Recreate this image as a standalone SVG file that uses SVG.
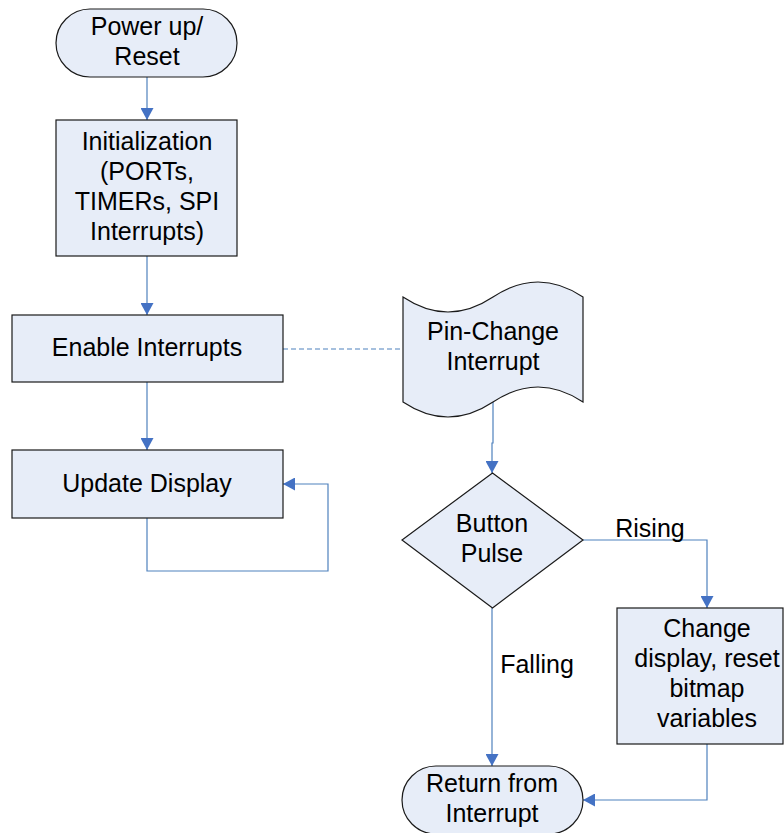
<svg xmlns="http://www.w3.org/2000/svg" width="784" height="833" viewBox="0 0 784 833">
<defs>
<style>
.n{fill:#E7EDF8;stroke:#1a1a1a;stroke-width:1.2}
.t{font-family:"Liberation Sans",Arial,sans-serif;font-size:25px;fill:#000;text-anchor:middle}
.c{fill:none;stroke:#4F81BD;stroke-width:1.2}
.d{fill:none;stroke:#4F81BD;stroke-width:1.2;stroke-dasharray:5,3}
</style>
<marker id="ah" markerUnits="userSpaceOnUse" markerWidth="13" markerHeight="13" refX="12" refY="6.5" orient="auto">
<path d="M0,0 L12,6.5 L0,13 z" fill="#4472C4"/>
</marker>
</defs>
<rect width="784" height="833" fill="#fff"/>
<g id="connectors">
<path class="c" d="M147,77 V120" marker-end="url(#ah)"/>
<path class="c" d="M147,256 V315" marker-end="url(#ah)"/>
<path class="c" d="M147,382 V450" marker-end="url(#ah)"/>
<path class="c" d="M147,518 V571 H328 V484 H283" marker-end="url(#ah)"/>
<path class="d" d="M283,349 H403"/>
<path class="c" d="M493,402 V443 H492 V473" marker-end="url(#ah)"/>
<path class="c" d="M583,540 H707 V608" marker-end="url(#ah)"/>
<path class="c" d="M492,608 V766" marker-end="url(#ah)"/>
<path class="c" d="M707,744 V800 H583" marker-end="url(#ah)"/>
</g>
<g id="power">
<rect class="n" x="56" y="9" width="181" height="68" rx="34"/>
<text class="t" x="147" y="35">Power up/</text>
<text class="t" x="147" y="65">Reset</text>
</g>
<g id="init">
<rect class="n" x="56" y="120" width="181" height="136"/>
<text class="t" x="147" y="150">Initialization</text>
<text class="t" x="147" y="180">(PORTs,</text>
<text class="t" x="147" y="210">TIMERs, SPI</text>
<text class="t" x="147" y="240">Interrupts)</text>
</g>
<g id="enable">
<rect class="n" x="12" y="315" width="271" height="67"/>
<text class="t" x="147" y="356">Enable Interrupts</text>
</g>
<g id="update">
<rect class="n" x="12" y="450" width="271" height="68"/>
<text class="t" x="147" y="492">Update Display</text>
</g>
<g id="pinchange">
<path class="n" d="M403,297 C433,317 463,317 493,297 C523,277 553,277 583,297 V402 C553,382 523,382 493,402 C463,422 433,422 403,402 Z"/>
<text class="t" x="493" y="340">Pin-Change</text>
<text class="t" x="493" y="370">Interrupt</text>
</g>
<g id="button">
<path class="n" d="M492.5,473 L583,540 L492.5,608 L402,540 Z"/>
<text class="t" x="492" y="532">Button</text>
<text class="t" x="492" y="562">Pulse</text>
</g>
<g id="change">
<rect class="n" x="617" y="608" width="166" height="136"/>
<text class="t" x="707" y="637">Change</text>
<text class="t" x="707" y="667">display, reset</text>
<text class="t" x="707" y="697">bitmap</text>
<text class="t" x="707" y="727">variables</text>
</g>
<g id="return">
<rect class="n" x="402" y="766" width="181" height="68" rx="34"/>
<text class="t" x="492" y="792">Return from</text>
<text class="t" x="492" y="822">Interrupt</text>
</g>
<g id="labels">
<text class="t" x="650" y="537">Rising</text>
<text class="t" x="537" y="673">Falling</text>
</g>
</svg>
